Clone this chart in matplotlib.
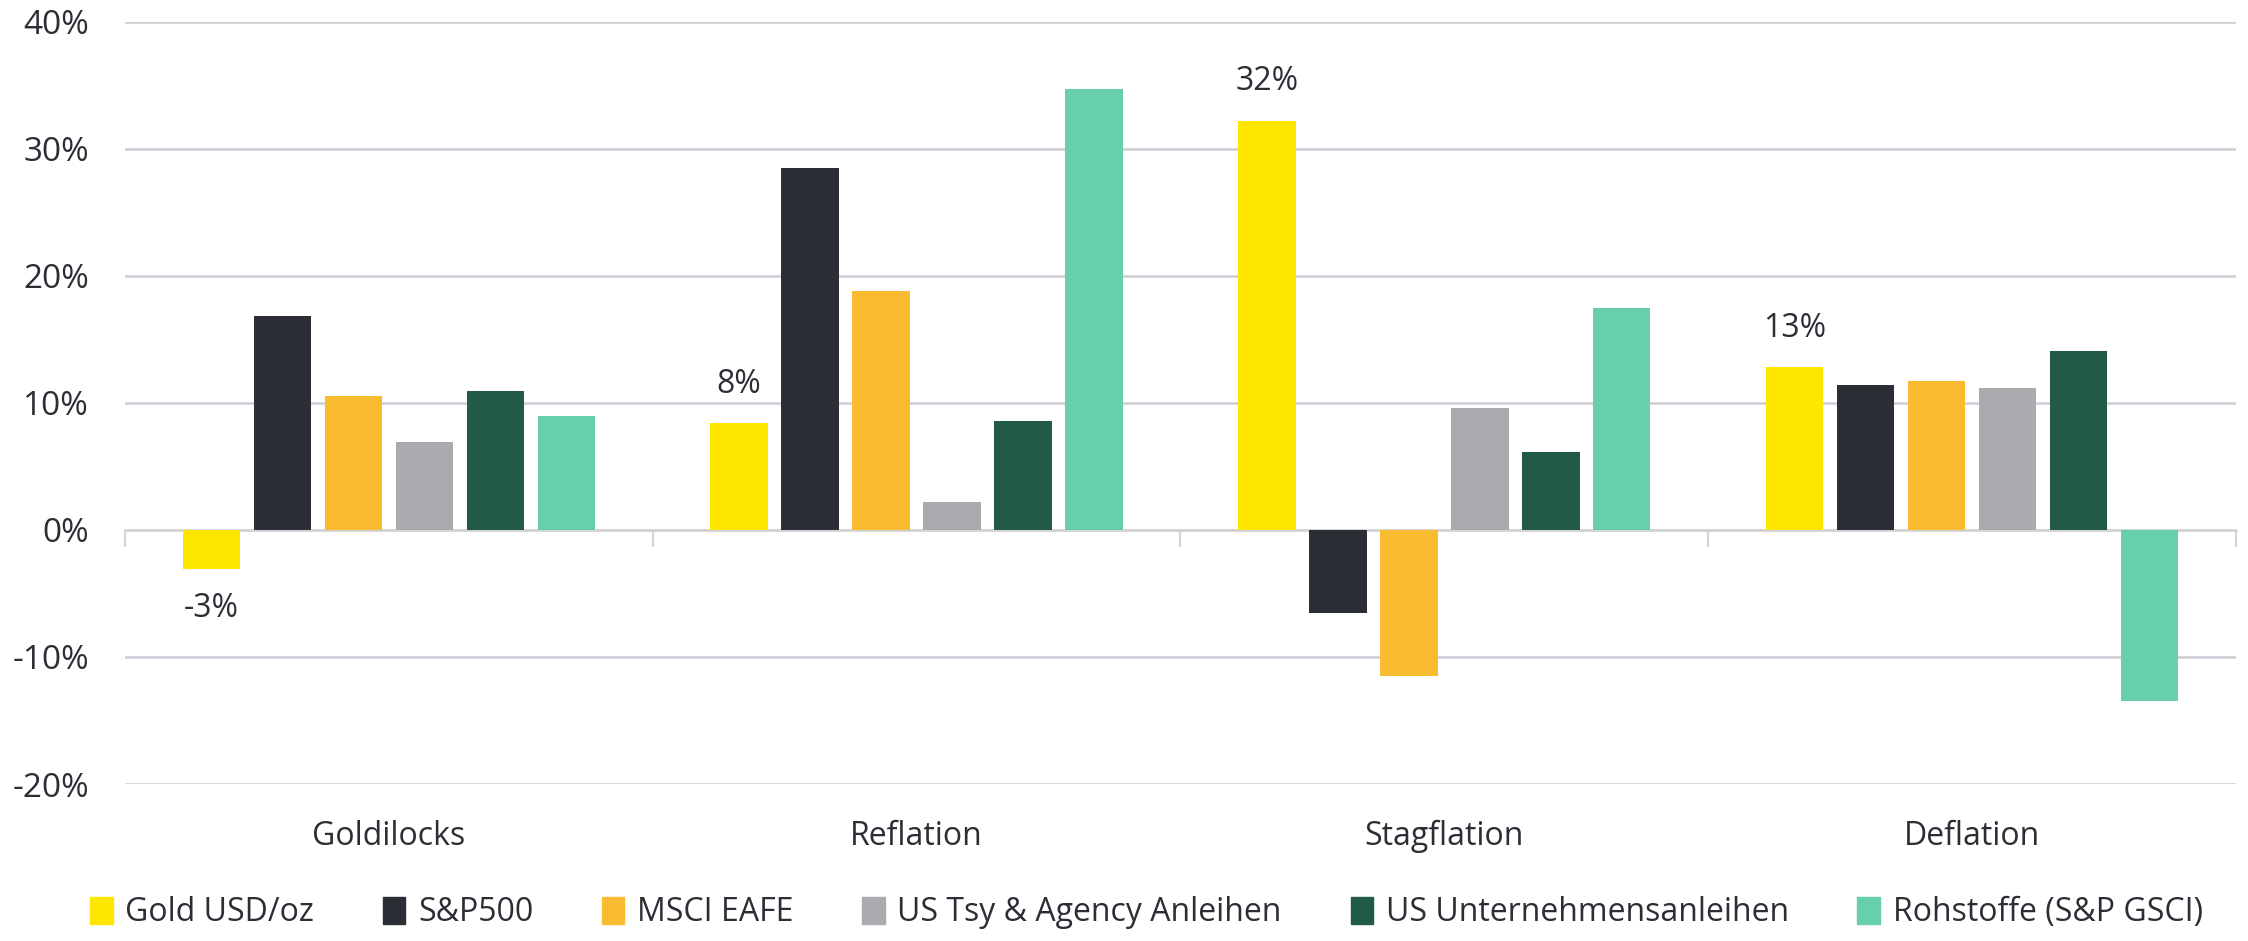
import matplotlib
matplotlib.use('Agg')
from matplotlib import pyplot as plt
from matplotlib.patches import Patch
import numpy as np

plt.rcParams['font.family'] = ['Liberation Sans Narrow', 'Open Sans', 'DejaVu Sans']

# data
scenarios = ['Goldilocks', 'Reflation', 'Stagflation', 'Deflation']
series = ['Gold USD/oz', 'S&P500', 'MSCI EAFE', 'US Tsy & Agency Anleihen',
          'US Unternehmensanleihen', 'Rohstoffe (S&P GSCI)']
gold = [-3.1, 8.4, 32.2, 12.8]
sp500 = [16.8, 28.5, -6.5, 11.4]
msci = [10.5, 18.8, -11.5, 11.7]
tsy = [6.9, 2.2, 9.6, 11.2]
corp = [10.9, 8.6, 6.1, 14.1]
commod = [9.0, 34.7, 17.5, -13.5]
gold_labels = ['-3%', '8%', '32%', '13%']

colors = ['#FFE600', '#2B2E35', '#F8BB31', '#AAABAE', '#215B47', '#67CFAA']
values = [gold, sp500, msci, tsy, corp, commod]

fig = plt.figure(figsize=(22.48, 9.41), dpi=100)
ax = fig.add_axes([0.0556, 0.1668, 0.939, 0.8102])

x = np.arange(len(scenarios))
pitch = 0.1345
width = 0.109
for i, (vals, c) in enumerate(zip(values, colors)):
    ax.bar(x + (i - 2.5) * pitch, vals, width=width, color=c, zorder=3)

# data labels on gold bars
for xi, v, lab in zip(x, gold, gold_labels):
    off = 28 if v >= 0 else -28
    ax.annotate(lab, (xi - 2.5 * pitch, v), xytext=(0, off), textcoords='offset points',
                ha='center', va='center', fontsize=23, color='#2B2E35')

ax.set_xlim(-0.5, 3.5)
ax.set_ylim(-20, 40)
ax.set_yticks(range(-20, 41, 10))
ax.set_yticklabels([f'{t}%' for t in range(-20, 41, 10)])
ax.yaxis.grid(True, color='#CCCCD4', linewidth=1.8, zorder=0)
ax.tick_params(axis='y', length=0, pad=26, labelsize=24, labelcolor='#2B2E35')

for s in ['top', 'right', 'left']:
    ax.spines[s].set_visible(False)
ax.spines['bottom'].set_position(('data', 0))
ax.spines['bottom'].set_color('#D4D4D8')
ax.spines['bottom'].set_linewidth(1.8)
ax.spines['bottom'].set_zorder(2)
ax.set_xticks(np.arange(-0.5, 3.6, 1))
ax.set_xticklabels([])
ax.tick_params(axis='x', direction='out', length=12, width=1.5, color='#D4D4D8')

for xi, name in zip(x, scenarios):
    ax.text(xi, -24.1, name, ha='center', va='center', fontsize=23, color='#2B2E35')

handles = [Patch(color=c, label=s) for c, s in zip(colors, series)]
fig.legend(handles=handles, loc='center', bbox_to_anchor=(0.51, 0.03), ncol=6,
           frameon=False, fontsize=23, handlelength=0.7, handleheight=0.9,
           handletextpad=0.4, columnspacing=2.15, labelcolor='#2B2E35')

fig.savefig('out.png', dpi=100)
